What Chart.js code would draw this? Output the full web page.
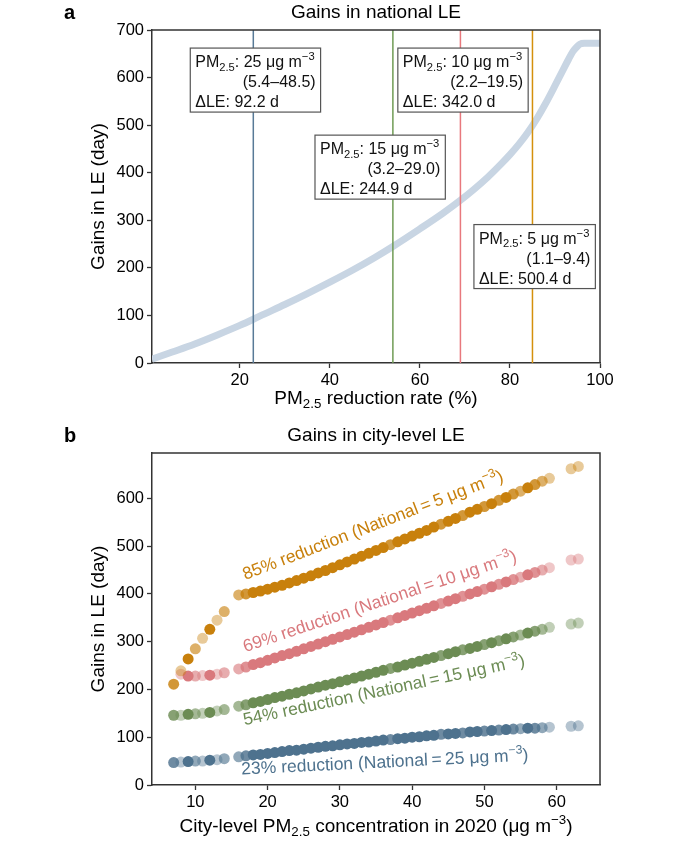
<!DOCTYPE html>
<html>
<head>
<meta charset="utf-8">
<script src="https://cdn.jsdelivr.net/npm/chart.js@4.4.1/dist/chart.umd.min.js"></script>
<style>
  body { margin: 0; background: #fff; }
  #wrap { position: relative; width: 684px; height: 844px; }
  canvas { position: absolute; left: 0; }
  #chart-a { top: 0; }
  #chart-b { top: 420px; }
</style>
</head>
<body>
<div id="wrap">
  <canvas id="chart-a" width="684" height="420"></canvas>
  <canvas id="chart-b" width="684" height="424"></canvas>
</div>
<script>
// Panel a: national gains vs reduction rate
const reductionRate = [0.5, 5, 10, 15, 20, 23, 25, 30, 35, 40, 45, 50, 54, 60, 65, 69, 72, 75, 78, 80, 82, 84, 86, 88, 90, 92, 93, 94, 95, 95.5, 96.5, 100];
const nationalGain = [8, 23, 40, 59, 79, 92, 101, 123, 146, 170, 195, 222, 245, 282, 314, 342, 365, 390, 418, 438, 460, 485, 514, 547, 583, 620, 638, 655, 666, 670, 672, 672];

// national targets (shared by both panels)
const targetRate = [23, 54, 69, 85];
const targetPM = [25, 15, 10, 5];
const targetRange = ['5.4–48.5', '3.2–29.0', '2.2–19.5', '1.1–9.4'];
const targetGain = ['92.2', '244.9', '342.0', '500.4'];

// Panel b: city-level gains
const concentration = [7, 8, 9, 10, 11, 12, 13, 14,
  16, 17, 18, 19, 20, 21, 22, 23, 24, 25, 26, 27, 28, 29, 30, 31, 32, 33, 34, 35, 36, 37,
  38, 39, 40, 41, 42, 43, 44, 45, 46, 47, 48, 49, 50, 51, 52, 53, 54, 55, 56, 57, 58, 59,
  62, 63];
const gain23 = [47, 48, 49, 50, 50, 52, 53, 55,
  59, 61, 63, 64, 66, 68, 70, 72, 73, 75, 77, 79, 81, 82, 84, 86, 87, 89, 90, 92, 94, 95,
  97, 98, 100, 101, 103, 104, 106, 107, 108, 109, 111, 112, 113, 114, 115, 116, 117, 118, 119, 119, 120, 121,
  123, 124];
const gain54 = [146, 146, 148, 149, 150, 152, 155, 158,
  165, 168, 172, 175, 179, 183, 186, 190, 193, 197, 201, 205, 209, 212, 216, 220, 224, 228, 232, 236, 240, 244,
  247, 251, 255, 259, 263, 267, 271, 275, 279, 283, 286, 290, 294, 298, 302, 306, 310, 314, 318, 322, 326, 330,
  337, 339];
const gain69 = [null, 232, 228, 228, 229, 230, 232, 235,
  243, 247, 252, 256, 261, 266, 271, 275, 280, 285, 290, 295, 300, 305, 310, 315, 320, 325, 330, 335, 340, 345,
  350, 355, 360, 365, 370, 375, 380, 385, 390, 395, 400, 405, 410, 415, 420, 425, 430, 435, 440, 445, 450, 455,
  471, 473];
const gain85 = [211, 239, 264, 285, 307, 326, 345, 363,
  398, 400, 403, 406, 410, 414, 418, 423, 428, 433, 438, 444, 449, 455, 461, 467, 473, 479, 485, 491, 497, 503,
  509, 515, 521, 527, 533, 540, 546, 552, 558, 564, 571, 577, 583, 589, 596, 602, 609, 615, 622, 629, 636, 642,
  662, 667];
// number of cities at each concentration (drives marker opacity)
const cityCount = [3, 1, 4, 2, 1, 4, 1, 2,
  2, 3, 4, 4, 4, 4, 4, 4, 4, 4, 4, 4, 4, 4, 4, 4, 4, 4, 4, 4, 4, 3,
  4, 4, 4, 4, 4, 4, 3, 4, 4, 3, 4, 4, 3, 4, 3, 4, 3, 2, 4, 3, 2, 1,
  1, 1];

const FONT = '"Liberation Sans", Arial, sans-serif';
Chart.defaults.font.family = FONT;
Chart.defaults.color = '#000';

const seriesRGB = ['78,114,142', '108,140,84', '217,121,125', '200,128,12'];
const vlineColors = ['#587a97', '#6f9b55', '#e8787d', '#d4900c'];
const opacity = [0, 0.42, 0.62, 0.82, 1];

// draws text with sub/superscripts, parts = [[text, 'sub'|'sup'|undefined], ...]
function drawRich(ctx, parts, x, y, size, align) {
  const widths = parts.map(([t, k]) => {
    ctx.font = `${k ? size * 0.7 : size}px ${FONT}`;
    return ctx.measureText(t).width;
  });
  const total = widths.reduce((s, w) => s + w, 0);
  let cx = align === 'center' ? x - total / 2 : align === 'right' ? x - total : x;
  ctx.textAlign = 'left';
  ctx.textBaseline = 'alphabetic';
  parts.forEach(([t, k], i) => {
    ctx.font = `${k ? size * 0.7 : size}px ${FONT}`;
    const dy = k === 'sub' ? size * 0.22 : k === 'sup' ? -size * 0.42 : 0;
    ctx.fillText(t, cx, y + dy);
    cx += widths[i];
  });
  return total;
}

const frame = {
  id: 'frame',
  afterDraw(chart, args, opts) {
    const { ctx, chartArea: a } = chart;
    ctx.save();
    ctx.strokeStyle = '#333';
    ctx.lineWidth = 1.5;
    ctx.beginPath();
    ctx.moveTo(a.left, a.top);
    ctx.lineTo(a.right, a.top);
    ctx.lineTo(a.right, a.bottom);
    ctx.stroke();
    ctx.fillStyle = '#000';
    ctx.textBaseline = 'middle';
    ctx.textAlign = 'left';
    ctx.font = `bold 20px ${FONT}`;
    ctx.fillText(opts.letter, 64, a.top - 17);
    ctx.textAlign = 'center';
    ctx.font = `19px ${FONT}`;
    ctx.fillText(opts.title, (a.left + a.right) / 2, a.top - 17);
    drawRich(ctx, opts.xTitle, (a.left + a.right) / 2, a.bottom + opts.xTitleOffset, 19, 'center');
    ctx.restore();
  }
};

const boxAnchors = [[9, 662], [36.7, 479], [55.1, 662], [72, 291]];

const infoBoxes = {
  id: 'infoBoxes',
  afterDatasetsDraw(chart) {
    const { ctx, scales: { x, y } } = chart;
    ctx.save();
    targetRate.forEach((r, i) => {
      const left = x.getPixelForValue(boxAnchors[i][0]);
      const top = y.getPixelForValue(boxAnchors[i][1]);
      const line1 = [['PM'], ['2.5', 'sub'], [`: ${targetPM[i]} μg m`], ['−3', 'sup']];
      let w = 0;
      line1.forEach(([t, k]) => { ctx.font = `${k ? 16 * 0.7 : 16}px ${FONT}`; w += ctx.measureText(t).width; });
      const width = w + 11, height = 64;
      ctx.fillStyle = '#fff';
      ctx.fillRect(left, top, width, height);
      ctx.strokeStyle = '#555';
      ctx.lineWidth = 1.2;
      ctx.strokeRect(left, top, width, height);
      ctx.fillStyle = '#111';
      drawRich(ctx, line1, left + 5, top + 19, 16, 'left');
      drawRich(ctx, [[`(${targetRange[i]})`]], left + width - 5, top + 39, 16, 'right');
      drawRich(ctx, [[`ΔLE: ${targetGain[i]} d`]], left + 5, top + 59, 16, 'left');
    });
    ctx.restore();
  }
};

const labelAnchors = [[16.4, 22, 2.8], [16.8, 125, 12], [16.9, 278, 18.5], [16.9, 429, 21]];

const seriesLabels = {
  id: 'seriesLabels',
  afterDatasetsDraw(chart) {
    const { ctx, scales: { x, y } } = chart;
    ctx.save();
    targetRate.forEach((r, i) => {
      const [lx, ly, ang] = labelAnchors[i];
      ctx.save();
      ctx.translate(x.getPixelForValue(lx), y.getPixelForValue(ly));
      ctx.rotate(-ang * Math.PI / 180);
      ctx.fillStyle = `rgb(${seriesRGB[i]})`;
      drawRich(ctx, [[`${r}% reduction (National`], ['\u2009=\u2009'], [`${targetPM[i]} μg m`], ['−3', 'sup'], [')']], 0, 0, 17.5, 'left');
      ctx.restore();
    });
    ctx.restore();
  }
};

function axisStyle(extra) {
  return Object.assign({
    type: 'linear',
    grid: { drawOnChartArea: false, drawTicks: true, tickLength: 5, tickColor: '#333', tickWidth: 1.3 },
    border: { display: true, color: '#333', width: 1.5 },
    ticks: { font: { size: 16.5 }, color: '#000', padding: 3 }
  }, extra);
}

const dataA = {
  datasets: [
    {
      data: reductionRate.map((r, i) => ({ x: r, y: nationalGain[i] })),
      borderColor: '#c8d5e3',
      borderWidth: 7,
      pointRadius: 0,
      cubicInterpolationMode: 'monotone',
      clip: 0,
      order: 5
    },
    ...targetRate.map((r, i) => ({
      data: [{ x: r, y: 0 }, { x: r, y: 700 }],
      borderColor: vlineColors[i],
      borderWidth: 1.5,
      pointRadius: 0,
      order: 1
    }))
  ]
};

const chartA = new Chart(document.getElementById('chart-a'), {
  type: 'line',
  data: dataA,
  options: {
    responsive: false,
    animation: false,
    events: [],
    layout: { padding: { top: 30, right: 84, left: 83, bottom: 0 } },
    scales: {
      x: axisStyle({
        min: 0.5, max: 100,
        afterBuildTicks: (axis) => { axis.ticks = [20, 40, 60, 80, 100].map(v => ({ value: v })); },
        afterFit: (axis) => { axis.height = 57; }
      }),
      y: axisStyle({
        min: 0, max: 700,
        ticks: { font: { size: 16.5 }, color: '#000', padding: 3, stepSize: 100 },
        title: { display: true, text: 'Gains in LE (day)', font: { size: 19 }, color: '#000' },
        afterFit: (axis) => { axis.width = 69; }
      })
    },
    plugins: {
      legend: { display: false },
      tooltip: { enabled: false },
      frame: {
        letter: 'a', title: 'Gains in national LE',
        xTitle: [['PM'], ['2.5', 'sub'], [' reduction rate (%)']],
        xTitleOffset: 41
      }
    }
  },
  plugins: [infoBoxes, frame]
});

const seriesValues = [gain23, gain54, gain69, gain85];

const dataB = {
  datasets: seriesValues.map((vals, s) => {
    const pts = [], cols = [];
    concentration.forEach((c, i) => {
      if (vals[i] === null) return;
      pts.push({ x: c, y: vals[i] });
      cols.push(`rgba(${seriesRGB[s]},${opacity[Math.min(cityCount[i], 4)]})`);
    });
    return {
      data: pts,
      pointBackgroundColor: cols,
      pointBorderWidth: 0,
      pointRadius: 5.5,
      order: 4 - s
    };
  })
};

const chartB = new Chart(document.getElementById('chart-b'), {
  type: 'scatter',
  data: dataB,
  options: {
    responsive: false,
    animation: false,
    events: [],
    layout: { padding: { top: 33, right: 84, left: 83, bottom: 0 } },
    scales: {
      x: axisStyle({
        min: 4, max: 66,
        afterBuildTicks: (axis) => { axis.ticks = [10, 20, 30, 40, 50, 60].map(v => ({ value: v })); },
        afterFit: (axis) => { axis.height = 59; }
      }),
      y: axisStyle({
        min: 0, max: 695,
        afterBuildTicks: (axis) => { axis.ticks = [0, 100, 200, 300, 400, 500, 600].map(v => ({ value: v })); },
        title: { display: true, text: 'Gains in LE (day)', font: { size: 19 }, color: '#000' },
        afterFit: (axis) => { axis.width = 69; }
      })
    },
    plugins: {
      legend: { display: false },
      tooltip: { enabled: false },
      frame: {
        letter: 'b', title: 'Gains in city-level LE',
        xTitle: [['City-level PM'], ['2.5', 'sub'], [' concentration in 2020 (μg m'], ['−3', 'sup'], [')']],
        xTitleOffset: 47
      }
    }
  },
  plugins: [seriesLabels, frame]
});
</script>
</body>
</html>
